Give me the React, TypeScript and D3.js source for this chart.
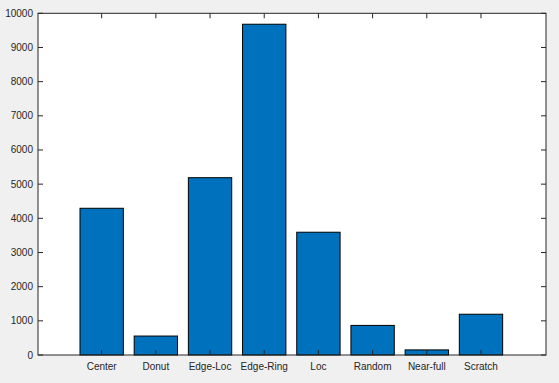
import React from "react";
import * as d3 from "d3";

const categories = ["Center", "Donut", "Edge-Loc", "Edge-Ring", "Loc", "Random", "Near-full", "Scratch"];
const counts = [4294, 555, 5189, 9680, 3593, 866, 149, 1193];
const yTicks = [0, 1000, 2000, 3000, 4000, 5000, 6000, 7000, 8000, 9000, 10000];

const W = 559;
const H = 383;
const left = 38;
const right = 546;
const top = 13.3;
const bottom = 355;

export default function App() {
  const x = d3.scaleLinear().domain([-0.175, 9.2]).range([left, right]);
  const y = d3.scaleLinear().domain([0, 10000]).range([bottom, top]);
  const bw = x(0.4) - x(0);
  const font = "'Liberation Sans', Helvetica, Arial, sans-serif";
  const ink = "#262626";
  return (
    <svg width={W} height={H} style={{ position: "absolute", left: 0, top: 0, display: "block" }}>
      <rect x={0} y={0} width={W} height={H} fill="#f0f0f0" />
      <rect x={left} y={top} width={right - left} height={bottom - top} fill="#ffffff" />
      {counts.map((v, i) => (
        <rect
          key={categories[i]}
          x={x(i + 1) - bw}
          y={y(v)}
          width={2 * bw}
          height={y(0) - y(v)}
          fill="#0072BD"
          stroke="#000"
          strokeWidth={1}
        />
      ))}
      {/* x ticks bottom and top */}
      {categories.map((c, i) => (
        <g key={c}>
          <line x1={x(i + 1)} x2={x(i + 1)} y1={bottom} y2={bottom - 5} stroke={ink} />
          <line x1={x(i + 1)} x2={x(i + 1)} y1={top} y2={top + 5} stroke={ink} />
          <text x={x(i + 1)} y={370} textAnchor="middle" fontFamily={font} fontSize={10} fill={ink}>
            {c}
          </text>
        </g>
      ))}
      {yTicks.map((t) => (
        <g key={t}>
          <line x1={left} x2={left + 5} y1={y(t)} y2={y(t)} stroke={ink} />
          <line x1={right} x2={right - 5} y1={y(t)} y2={y(t)} stroke={ink} />
          <text x={33} y={y(t)} dy="0.35em" textAnchor="end" fontFamily={font} fontSize={10} fill={ink}>
            {t}
          </text>
        </g>
      ))}
      <rect x={left} y={top} width={right - left} height={bottom - top} fill="none" stroke={ink} strokeWidth={1} />
    </svg>
  );
}
